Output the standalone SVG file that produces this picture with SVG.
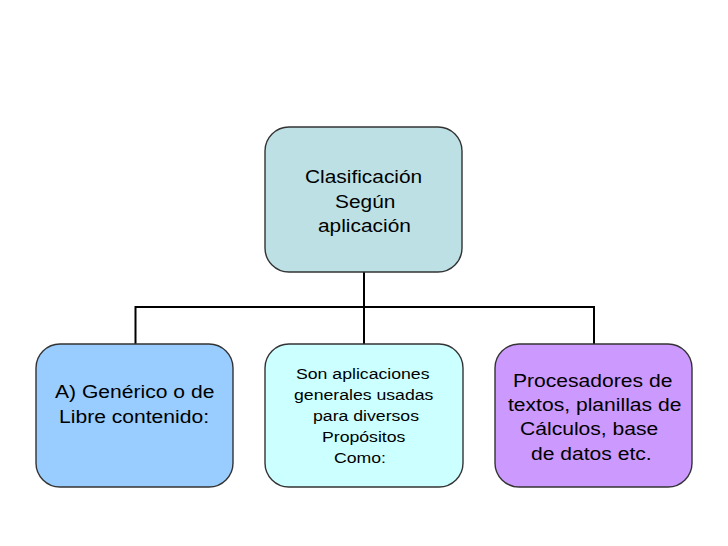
<svg xmlns="http://www.w3.org/2000/svg" width="728" height="546" viewBox="0 0 728 546">
<style>
.box{stroke:#333;stroke-width:1.4}
.t{font-family:"Liberation Sans",Arial,sans-serif;fill:#000}
.big{font-size:18.5px}
.small{font-size:15.5px}
.conn{stroke:#000;stroke-width:2;fill:none}
</style>
<rect width="728" height="546" fill="#fff"/>
<g id="connectors">
<path class="conn" d="M364 272V307M135.5 307H594M135.5 306V344M364 307V344M594 306V344"/>
</g>
<g id="root">
<rect class="box" x="265" y="127" width="197" height="145" rx="24" fill="#BDE0E5"/>
<text class="t big" transform="translate(305,183) scale(1.13,1)">Clasificación</text>
<text class="t big" transform="translate(335,207.5) scale(1.13,1)">Según</text>
<text class="t big" transform="translate(318,232) scale(1.13,1)">aplicación</text>
</g>
<g id="generico">
<rect class="box" x="36" y="344" width="197" height="143" rx="24" fill="#99CCFF"/>
<text class="t big" transform="translate(55,398) scale(1.14,1)">A) Genérico o de</text>
<text class="t big" transform="translate(59,423) scale(1.14,1)">Libre contenido:</text>
</g>
<g id="aplicaciones">
<rect class="box" x="265" y="344" width="198" height="143" rx="24" fill="#CCFFFF"/>
<text class="t small" transform="translate(296,379) scale(1.14,1)">Son aplicaciones</text>
<text class="t small" transform="translate(294,400) scale(1.14,1)">generales usadas</text>
<text class="t small" transform="translate(313,421) scale(1.14,1)">para diversos</text>
<text class="t small" transform="translate(322,442) scale(1.14,1)">Propósitos</text>
<text class="t small" transform="translate(334,463) scale(1.14,1)">Como:</text>
</g>
<g id="procesadores">
<rect class="box" x="495" y="344" width="197" height="143" rx="24" fill="#CC99FF"/>
<text class="t big" transform="translate(513,387) scale(1.14,1)">Procesadores de</text>
<text class="t big" transform="translate(508,411) scale(1.14,1)">textos, planillas  de</text>
<text class="t big" transform="translate(520,435) scale(1.14,1)">Cálculos, base</text>
<text class="t big" transform="translate(531,460) scale(1.14,1)">de datos etc.</text>
</g>
</svg>
